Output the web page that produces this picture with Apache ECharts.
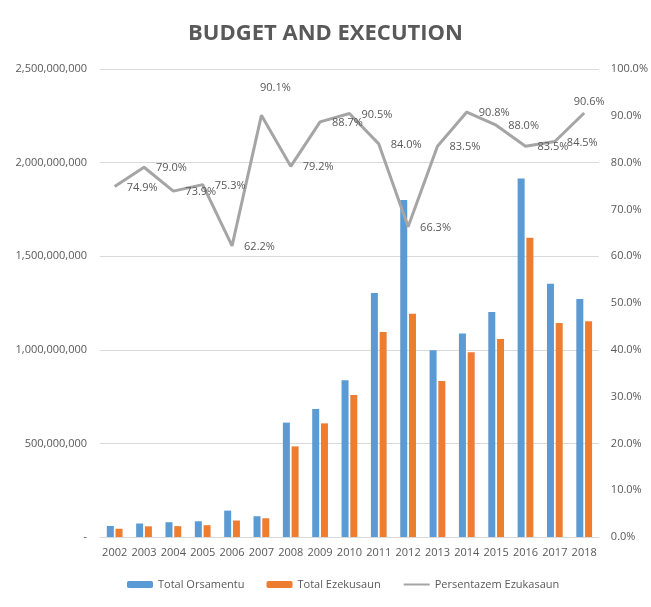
<!DOCTYPE html>
<html>
<head>
<meta charset="utf-8">
<script src="https://cdn.jsdelivr.net/npm/echarts@6/dist/echarts.min.js"></script>
<style>
html, body { margin: 0; padding: 0; background: #fff; }
#chart { width: 651px; height: 607px; }
</style>
</head>
<body>
<div id="chart"></div>
<script>
var years = ['2002','2003','2004','2005','2006','2007','2008','2009','2010','2011','2012','2013','2014','2015','2016','2017','2018'];
var orsamentu = [59e6, 72e6, 79e6, 84e6, 141e6, 111e6, 611e6, 684e6, 838e6, 1303e6, 1800e6, 997e6, 1087e6, 1202e6, 1915e6, 1353e6, 1272e6];
var ezekusaun = [44e6, 57e6, 58e6, 63e6, 88e6, 100e6, 484e6, 607e6, 758e6, 1095e6, 1193e6, 833e6, 987e6, 1058e6, 1599e6, 1143e6, 1152e6];
var persentazem = [0.749, 0.790, 0.739, 0.753, 0.622, 0.901, 0.792, 0.887, 0.905, 0.840, 0.663, 0.835, 0.908, 0.880, 0.835, 0.845, 0.906];

var txt = '#595959';
var font = '"Open Sans", "Noto Sans", sans-serif';

// a couple of labels sit above the point in the original
var labelMoves = {
    5: { position: 'top', offset: [14, -16] },
    16: { position: 'top', offset: [5, 0] }
};
var pctData = persentazem.map(function (v, i) {
    return labelMoves[i] ? { value: v, label: labelMoves[i] } : v;
});

var chart = echarts.init(document.getElementById('chart'));
var option = {
    animation: false,
    textStyle: { fontFamily: font },
    title: {
        text: 'BUDGET AND EXECUTION',
        left: 'center',
        top: 18,
        textStyle: { color: txt, fontSize: 22, fontWeight: 'bold', fontFamily: font }
    },
    legend: {
        bottom: 12,
        left: 122,
        itemGap: 22,
        itemWidth: 26,
        itemHeight: 7,
        textStyle: { color: txt, fontSize: 11 },
        data: [
            'Total Orsamentu',
            'Total Ezekusaun',
            { name: 'Persentazem Ezukasaun', itemStyle: { opacity: 0 } }
        ]
    },
    grid: { left: 100, right: 51, top: 69, bottom: 70 },
    xAxis: {
        type: 'category',
        data: years,
        axisLine: { lineStyle: { color: '#d9d9d9', width: 1 } },
        axisTick: { show: false },
        axisLabel: { color: txt, fontSize: 11, margin: 10, interval: 0 }
    },
    yAxis: [
        {
            type: 'value',
            min: 0, max: 2500000000, interval: 500000000,
            axisLine: { show: false },
            axisTick: { show: false },
            splitLine: { lineStyle: { color: '#d9d9d9' } },
            axisLabel: {
                color: txt, fontSize: 11, margin: 13,
                formatter: function (v) { return v === 0 ? '-' : v.toLocaleString('en-US'); }
            }
        },
        {
            type: 'value',
            min: 0, max: 1, interval: 0.1,
            axisLine: { show: false },
            axisTick: { show: false },
            splitLine: { show: false },
            axisLabel: {
                color: txt, fontSize: 11, margin: 12,
                formatter: function (v) { return (v * 100).toFixed(1) + '%'; }
            }
        }
    ],
    series: [
        {
            name: 'Total Orsamentu',
            type: 'bar',
            data: orsamentu,
            barWidth: 7,
            barGap: '25%',
            itemStyle: { color: '#5B9BD5' }
        },
        {
            name: 'Total Ezekusaun',
            type: 'bar',
            data: ezekusaun,
            barWidth: 7,
            itemStyle: { color: '#ED7D31' }
        },
        {
            name: 'Persentazem Ezukasaun',
            type: 'line',
            yAxisIndex: 1,
            data: pctData,
            symbol: 'circle',
            symbolSize: 0,
            showSymbol: true,
            showAllSymbol: true,
            lineStyle: { color: '#A5A5A5', width: 3 },
            itemStyle: { color: '#A5A5A5' },
            label: {
                show: true,
                position: 'right',
                distance: 6,
                offset: [6, 1],
                color: txt,
                fontSize: 11,
                formatter: function (p) { return (p.value * 100).toFixed(1) + '%'; }
            }
        }
    ]
};
chart.setOption(option);
</script>
</body>
</html>
